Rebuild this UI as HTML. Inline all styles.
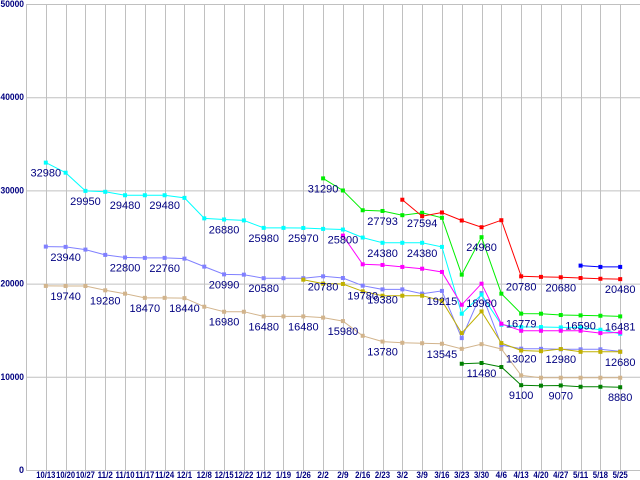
<!DOCTYPE html>
<html><head><meta charset="utf-8"><style>
html,body{margin:0;padding:0;background:#fff;width:640px;height:480px;overflow:hidden}
svg{display:block}
</style></head><body>
<svg id="chart" width="640" height="480" xmlns="http://www.w3.org/2000/svg"></svg>
<script>
const categories = ["10/13","10/20","10/27","11/2","11/10","11/17","11/24","12/1","12/8","12/15","12/22","1/12","1/19","1/26","2/2","2/9","2/16","2/23","3/2","3/9","3/16","3/23","3/30","4/6","4/13","4/20","4/27","5/11","5/18","5/25"];
const yTicks = [0,10000,20000,30000,40000,50000];
const N = null;
const cyanValues = [32980,31900,29950,29850,29480,29480,29480,29200,27000,26880,26780,25980,25980,25970,25870,25800,24940,24380,24380,24380,23940,16770,18810,15580,15340,15340,15300,15300,15050,14620];
const greenValues = [N,N,N,N,N,N,N,N,N,N,N,N,N,N,31290,29990,27870,27793,27340,27594,27060,20960,24980,18920,16779,16770,16630,16590,16550,16481];
const redValues = [N,N,N,N,N,N,N,N,N,N,N,N,N,N,N,N,N,N,29000,27230,27630,26770,26050,26800,20780,20720,20680,20600,20520,20480];
const blueValues = [N,N,N,N,N,N,N,N,N,N,N,N,N,N,N,N,N,N,N,N,N,N,N,N,N,N,N,21930,21790,21790];
const magentaValues = [N,N,N,N,N,N,N,N,N,N,N,N,N,N,N,25150,22070,22000,21790,21600,21250,17730,19990,15690,14940,14940,14940,14940,14690,14760];
const slateValues = [23970,23940,23650,23080,22800,22760,22760,22680,21820,20990,20960,20580,20580,20580,20780,20600,19780,19380,19380,18920,19215,14150,18980,13400,13020,13000,12950,12950,12950,12720];
const oliveValues = [N,N,N,N,N,N,N,N,N,N,N,N,N,20420,20000,19960,19170,18700,18700,18700,18160,14690,17010,13620,12820,12750,12980,12680,12680,12680];
const tanValues = [19750,19740,19740,19280,18920,18470,18470,18440,17520,16980,16980,16480,16480,16480,16350,15980,14400,13780,13650,13600,13545,13000,13500,12980,10150,9900,9900,9900,9900,9900];
const darkGreenValues = [N,N,N,N,N,N,N,N,N,N,N,N,N,N,N,N,N,N,N,N,N,11400,11480,11050,9100,9050,9070,8930,8930,8880];
const cyanLabels = [0,2,4,6,9,11,13,15,17,19];
const greenLabels = [14,17,19,22,24,27,29];
const redLabels = [24,26,29];
const slateLabels = [1,4,6,9,11,14,16,17,20,22,24];
const oliveLabels = [26,29];
const tanLabels = [1,3,5,7,9,11,13,15,17,20];
const darkGreenLabels = [22,24,26,29];

const series = [
 {name:"tan",color:"#d2b48c",values:tanValues,labels:tanLabels},
 {name:"slate",color:"#8080ff",values:slateValues,labels:slateLabels},
 {name:"olive",color:"#c0b000",values:oliveValues,labels:oliveLabels},
 {name:"cyan",color:"#00ffff",values:cyanValues,labels:cyanLabels},
 {name:"magenta",color:"#ff00ff",values:magentaValues,labels:[]},
 {name:"green",color:"#00ee00",values:greenValues,labels:greenLabels},
 {name:"red",color:"#ff0000",values:redValues,labels:redLabels},
 {name:"blue",color:"#0000ff",values:blueValues,labels:[]},
 {name:"dark-green",color:"#008000",values:darkGreenValues,labels:darkGreenLabels}
];
const svgEl = document.getElementById('chart');
const NS = "http://www.w3.org/2000/svg";
const plotLeft = 26, plotRight = 640, plotTop = 4, plotBottom = 470, yMax = 50000;
const step = (plotRight-plotLeft)/(categories.length+1);
function xPos(i){ return plotLeft + step*(i+1); }
function yPos(v){ return plotBottom - (v/yMax)*(plotBottom-plotTop); }
function mk(tag, attrs, parent){ const e=document.createElementNS(NS,tag); for(const k in attrs) e.setAttribute(k,attrs[k]); (parent||svgEl).appendChild(e); return e; }

const grid = mk('g',{});


yTicks.forEach(t=>{
  const l = mk('line',{x1:plotLeft,x2:plotRight,y1:yPos(t)+0.5,y2:yPos(t)+0.5,stroke:"#c0c0c0","stroke-width":1},grid);
  
  
  const tx = mk('text',{x:24,y:yPos(t)+3,"text-anchor":"end","font-family":"Liberation Sans, sans-serif","font-size":"9","font-weight":"bold",fill:"#000080"});
  tx.textContent = String(t);
  if (t>0){ tx.setAttribute('textLength', String(t).length*4.7); tx.setAttribute('lengthAdjust','spacingAndGlyphs'); }
  
  
});
const ax = mk('line',{x1:plotLeft+0.5,x2:plotLeft+0.5,y1:plotTop,y2:plotBottom,stroke:"#c0c0c0","stroke-width":1},grid);


categories.forEach((c,i)=>{
  const l = mk('line',{x1:Math.round(xPos(i))+0.5,x2:Math.round(xPos(i))+0.5,y1:plotTop,y2:plotBottom,stroke:"#c0c0c0","stroke-width":1},grid);
  
  
  const tx = mk('text',{x:xPos(i),y:478,"text-anchor":"middle","font-family":"Liberation Sans, sans-serif","font-size":"9","font-weight":"bold",fill:"#000080",textLength:c.length*3.8,lengthAdjust:"spacingAndGlyphs"});
  tx.textContent = c;
  
  
});

series.forEach(s=>{
  const g = mk('g',{});
  
  
  let d = "", pen = false;
  s.values.forEach((v,i)=>{
    if(v===null){ pen=false; return; }
    d += (pen?"L":"M") + xPos(i).toFixed(1) + " " + yPos(v).toFixed(1) + " ";
    pen = true;
  });
  const p = mk('path',{d:d,fill:"none",stroke:s.color,"stroke-width":1},g);
  
  
  s.values.forEach((v,i)=>{
    if(v===null) return;
    const r = mk('rect',{x:xPos(i)-2,y:yPos(v)-2,width:4,height:4,fill:s.color},g);
    
    
  });
});
const lg = mk('g',{});


series.forEach(s=>{
  s.labels.forEach(i=>{
    const v = s.values[i];
    const tx = mk('text',{x:xPos(i),y:yPos(v)+14,"text-anchor":"middle","font-family":"Liberation Sans, sans-serif","font-size":"11",fill:"#000080"},lg);
    tx.textContent = String(v);
    
    
  });
});
</script>
</body></html>
